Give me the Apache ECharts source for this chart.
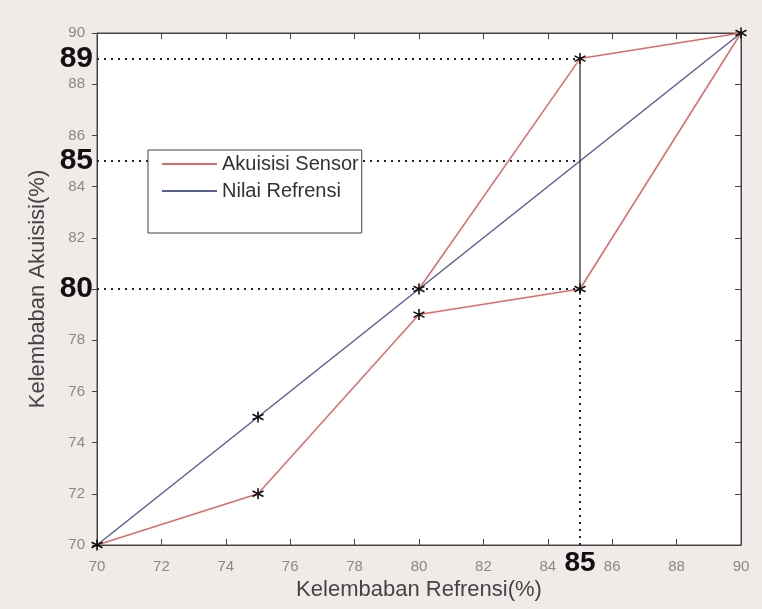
<!DOCTYPE html>
<html>
<head>
<meta charset="utf-8">
<script src="https://cdn.jsdelivr.net/npm/echarts@6/dist/echarts.min.js"></script>
<style>
html,body{margin:0;padding:0;background:#f0ebe9;}
#chart{width:762px;height:609px;}
</style>
</head>
<body>
<div id="chart"></div>
<script>
// ---- data ----
var refX = [70, 75, 80, 85, 90];
var refY = [70, 75, 80, 85, 90];
var sensorLowX = [70, 75, 80, 85, 90];
var sensorLowY = [70, 72, 79, 80, 90];
var sensorHighX = [80, 85, 90];
var sensorHighY = [80, 89, 90];
var markerX = [70, 75, 75, 80, 80, 85, 85, 90];
var markerY = [70, 75, 72, 80, 79, 89, 80, 90];
var guideY = [89, 85, 80];
var guideX = 85;
var errorSpan = [80, 89];
var axisMin = 70, axisMax = 90, axisStep = 2;
var xTitle = 'Kelembaban Refrensi(%)';
var yTitle = 'Kelembaban Akuisisi(%)';
var seriesNames = ['Akuisisi Sensor', 'Nilai Refrensi'];

function zip(xs, ys) { return xs.map(function (x, i) { return [x, ys[i]]; }); }

var font = '"Liberation Sans", Arial, sans-serif';
var star = 'path://M5,0L5,10M0.67,2.5L9.33,7.5M0.67,7.5L9.33,2.5';
var bigLabel = { show: true, fontWeight: 'bold', color: '#111', fontFamily: font };

var guideLines = guideY.map(function (y) {
  return [
    { coord: [axisMin, y], label: Object.assign({}, bigLabel, { position: 'start', distance: 4, fontSize: 30, formatter: String(y) }) },
    { coord: [guideX, y] }
  ];
});
guideLines.push([
  { coord: [guideX, axisMin], label: Object.assign({}, bigLabel, { position: 'start', distance: 4, fontSize: 28, formatter: String(guideX) }) },
  { coord: [guideX, guideY[2]] }
]);

var chart = echarts.init(document.getElementById('chart'));
var baseAxis = {
  type: 'value', min: axisMin, max: axisMax, interval: axisStep,
  splitLine: { show: false },
  axisLine: { show: true, lineStyle: { color: '#444', width: 1 } },
  axisTick: { show: true, inside: true, length: 6, lineStyle: { color: '#444' } }
};
chart.setOption({
  backgroundColor: '#f0ebe9',
  animation: false,
  textStyle: { fontFamily: font },
  grid: { left: 97, right: 21, top: 33, bottom: 64, show: true, backgroundColor: '#ffffff', borderColor: '#444', borderWidth: 1 },
  legend: {
    data: seriesNames, orient: 'vertical', left: 148, top: 150, z: 20,
    icon: 'rect', itemWidth: 55, itemHeight: 2, itemGap: 7,
    padding: [4, 3, 32, 14],
    borderColor: '#444', borderWidth: 1, backgroundColor: '#fff',
    textStyle: { fontSize: 20, color: '#333', fontFamily: font }
  },
  xAxis: [
    Object.assign({}, baseAxis, {
      position: 'bottom', name: xTitle, nameLocation: 'middle', nameGap: 30,
      nameTextStyle: { fontSize: 22, color: '#444', fontFamily: font },
      axisLabel: { fontSize: 15, color: '#888', margin: 14, fontFamily: font }
    }),
    Object.assign({}, baseAxis, { position: 'top', axisLabel: { show: false } })
  ],
  yAxis: [
    Object.assign({}, baseAxis, {
      position: 'left', name: yTitle, nameLocation: 'middle', nameGap: 48,
      nameTextStyle: { fontSize: 22, color: '#444', fontFamily: font },
      axisTick: { show: true, inside: false, length: 5, lineStyle: { color: '#444' } },
      axisLabel: { fontSize: 15, color: '#888', margin: 12, fontFamily: font,
        formatter: function (v) { return guideY.indexOf(v) >= 0 ? '' : String(v); } }
    }),
    Object.assign({}, baseAxis, { position: 'right', axisLabel: { show: false } })
  ],
  series: [
    {
      name: seriesNames[0], type: 'line', symbol: 'none',
      data: zip(sensorLowX, sensorLowY),
      lineStyle: { color: '#e06a6a', width: 1.5 }, itemStyle: { color: '#e06a6a' }
    },
    {
      name: seriesNames[0], type: 'line', symbol: 'none',
      data: zip(sensorHighX, sensorHighY),
      lineStyle: { color: '#e06a6a', width: 1.5 }, itemStyle: { color: '#e06a6a' }
    },
    {
      name: seriesNames[1], type: 'line', symbol: 'none',
      data: zip(refX, refY),
      lineStyle: { color: '#5b5f98', width: 1.5 }, itemStyle: { color: '#5b5f98' }
    },
    {
      name: 'span', type: 'line', symbol: 'none',
      data: [[guideX, errorSpan[0]], [guideX, errorSpan[1]]],
      lineStyle: { color: '#222', width: 1.2 }
    },
    {
      name: 'markers', type: 'scatter', symbol: star, symbolSize: 11,
      data: zip(markerX, markerY),
      itemStyle: { color: 'none', borderColor: '#111', borderWidth: 1.6, opacity: 1 },
      z: 5,
      markLine: {
        silent: true, symbol: ['none', 'none'],
        lineStyle: { color: '#222', type: [2, 5], width: 2 },
        data: guideLines
      }
    }
  ]
});
</script>
</body>
</html>
